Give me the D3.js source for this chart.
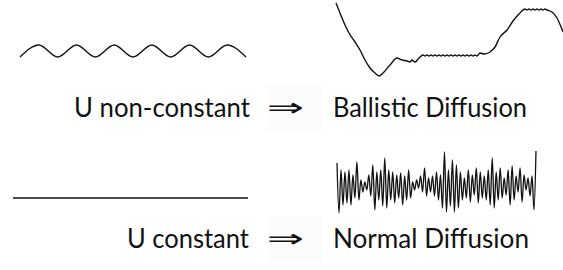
<!DOCTYPE html>
<html>
<head>
  <title>Ballistic vs normal diffusion</title>
  <script src="https://d3js.org/d3.v7.min.js"></script>
  <style>
    body { margin: 0; background: white; }
    text { font-family: "Lato", "Open Sans", sans-serif; fill: #111; }
  </style>
</head>
<body>
<svg id="canvas"></svg>
<script>
// sine-like potential (half-period extrema)
var waveValues = [-1, 1, -1, 1, -1, 1, -1, 1, -1, 1, -1, 1, -1];

// constant potential
var flatT = [0, 1];
var flatValues = [0, 0];

// ballistic trajectory
var ballisticT = [0, 4, 9, 13, 19, 24, 29, 34, 39, 43, 47, 54, 61, 66, 71, 74, 76, 79, 83, 87,
  89, 91, 93, 95, 97, 99, 101, 103, 105, 107, 109, 111, 113, 115, 117, 119, 121, 123, 125, 127, 129, 131, 133, 135, 137, 139, 141,
  144, 148, 154, 159, 164, 171, 177, 183, 189,
  191, 193, 195, 197, 199, 201, 203, 205, 207, 209, 211,
  216, 221, 227];
var ballisticValues = [73, 63, 51, 43, 34, 26, 16, 8, 3, 0, 3, 11, 18, 16, 15, 14, 16, 14, 18, 21,
  20, 21, 20, 21, 20, 21, 20, 21, 20, 21, 20, 21, 20, 21, 20, 21, 20, 21, 20, 21, 20, 21, 20, 21, 20, 21, 20,
  23, 22, 24, 29, 39, 46, 55, 62, 67,
  66, 67, 66, 67, 66, 67, 66, 67, 66, 67, 66,
  64, 58, 44];

// normal diffusion trajectory (noisy)
var noiseValues = [20, -30, 13, -22, 11, -20, 13, -22, 8, -15, 21, -17, 3, -9, 1, -7, 8, -13, 18, -27,
  11, -17, 13, -23, 25, -25, 13, -17, 11, -20, 8, -15, 10, -22, 7, -17, 13, -15, 1, -7,
  3, -5, 7, -9, 15, -13, 5, -9, 7, -13, 11, -17, 8, -25, 31, -29, 13, -23, 23, -29,
  18, -25, 11, -17, 5, -15, 13, -19, 8, -12, 15, -20, 11, -15, 7, -17, 13, -22, 25, -25,
  11, -17, 15, -15, 5, -12, 13, -22, 17, -17, 7, -9, 15, -19, 8, -7, 5, -13, 7, -27, 32];

var labelsLeft = ["U non-constant", "U constant"];
var labelsRight = ["Ballistic Diffusion", "Normal Diffusion"];

var width = 563, height = 270;
var svg = d3.select("#canvas").attr("width", width).attr("height", height);

function drawLine(xs, ys, xScale, yScale, sw) {
  var line = d3.line()
    .x(function(d, i) { return xScale(xs[i]); })
    .y(function(d) { return yScale(d); })
    .curve(d3.curveMonotoneX);
  svg.append("path")
    .attr("d", line(ys))
    .attr("fill", "none")
    .attr("stroke", "#111")
    .attr("stroke-width", sw)
    .attr("stroke-linejoin", "round");
}

// top left wave
var waveX = d3.scaleLinear().domain([0, waveValues.length - 1]).range([20, 246]);
var waveY = d3.scaleLinear().domain([-1, 1]).range([57, 45]);
drawLine(waveValues.map(function(d, i) { return i; }), waveValues, waveX, waveY, 1.4);

// top right ballistic
var balX = d3.scaleLinear().domain([0, 227]).range([336, 563]);
var balY = d3.scaleLinear().domain([0, 73]).range([76, 3]);
drawLine(ballisticT, ballisticValues, balX, balY, 1.4);

// bottom left flat line
var flatX = d3.scaleLinear().domain([0, 1]).range([13, 248]);
var flatY = d3.scaleLinear().domain([-1, 1]).range([208, 188]);
drawLine(flatT, flatValues, flatX, flatY, 1.5);

// bottom right noise
var noiseX = d3.scaleLinear().domain([0, noiseValues.length - 1]).range([337, 536]);
var noiseY = d3.scaleLinear().domain([-30, 32]).range([213, 151]);
drawLine(noiseValues.map(function(d, i) { return i; }), noiseValues, noiseX, noiseY, 1.3);

// labels
var rowY = [117, 248];
var leftSpan = [[74, 250], [127, 249]];
var rightSpan = [[333, 527], [333, 529]];
for (var i = 0; i < 2; i++) {
  svg.append("rect")
    .attr("x", 268).attr("y", rowY[i] - 32)
    .attr("width", 54).attr("height", 46)
    .attr("fill", "#fbfbfb");
  svg.append("text").text(labelsLeft[i])
    .attr("x", leftSpan[i][0]).attr("y", rowY[i])
    .attr("textLength", leftSpan[i][1] - leftSpan[i][0])
    .attr("lengthAdjust", "spacingAndGlyphs")
    .style("font-size", "27px");
  svg.append("text").text("\u21D2")
    .attr("x", 267).attr("y", rowY[i] - 1)
    .attr("textLength", 37)
    .attr("lengthAdjust", "spacingAndGlyphs")
    .style("font-family", "DejaVu Sans")
    .style("font-weight", "200")
    .style("font-size", "25px");
  svg.append("text").text(labelsRight[i])
    .attr("x", rightSpan[i][0]).attr("y", rowY[i])
    .attr("textLength", rightSpan[i][1] - rightSpan[i][0])
    .attr("lengthAdjust", "spacingAndGlyphs")
    .style("font-size", "27px");
}
</script>
</body>
</html>
